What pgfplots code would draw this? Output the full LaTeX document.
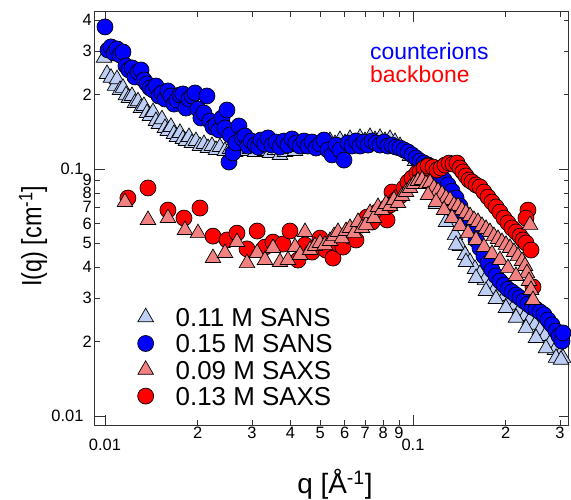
\documentclass[border=0pt]{standalone}
\usepackage{fontspec}
\setmainfont{Liberation Sans}
\usepackage{pgfplots}
\pgfplotsset{compat=1.18}
\definecolor{lblue}{RGB}{190,206,245}
\definecolor{salmon}{RGB}{242,130,130}
\definecolor{myblue}{RGB}{0,0,255}
\definecolor{myred}{RGB}{255,0,0}
\begin{document}
\begin{tikzpicture}
\useasboundingbox (0,0) rectangle (571bp,500bp);
\begin{axis}[
  at={(95bp,75bp)}, anchor=south west,
  scale only axis, width=474bp, height=413bp,
  xmode=log, ymode=log,
  xmin=0.00928, xmax=0.321, ymin=0.0092, ymax=0.432,
  clip=false,
  axis line style={black!80, line width=1bp},
  tick style={black!80, line width=0.8bp},
  major tick length=10bp, minor tick length=5bp,
  tick align=inside,
  xtick pos=both, ytick pos=both,
  xticklabel pos=lower, yticklabel pos=left,
  xtick={0.01,0.1}, xticklabels={0.01,0.1},
  ytick={0.01,0.1}, yticklabels={0.01,0.1},
  minor xtick={}, minor ytick={},
  xticklabel style={font=\fontsize{16.5}{16.5}\selectfont},
  yticklabel style={font=\fontsize{16.5}{16.5}\selectfont},
  xticklabel shift=10bp, yticklabel shift=8bp,
  extra x ticks={0.02,0.03,0.04,0.05,0.06,0.07,0.08,0.09,0.2,0.3},
  extra x tick labels={2,3,4,5,6,7,8,9,2,3},
  extra x tick style={major tick length=5bp, xticklabel shift=0bp, tick label style={font=\fontsize{12}{12}\selectfont, inner sep=1.5bp}},
  extra y ticks={0.02,0.03,0.04,0.05,0.06,0.07,0.08,0.09,0.2,0.3,0.4},
  extra y tick labels={2,3,4,5,6,7,8,9,2,3,4},
  extra y tick style={major tick length=5bp, yticklabel shift=2.5bp, tick label style={font=\fontsize{11.5}{11.5}\selectfont, inner sep=0.5bp}},
  xlabel={q [Å\textsuperscript{-1}]},
  ylabel={I(q) [cm\textsuperscript{-1}]},
  xlabel style={at={(axis description cs:0.5063,-0.167)}, anchor=base, font=\fontsize{28}{28}\selectfont},
  ylabel style={at={(axis description cs:-0.1308,0.457)}, anchor=center, font=\fontsize{28}{28}\selectfont, xscale=0.84},
  legend image code/.code={\path[draw=none] (0bp,0bp) -- (48bp,0bp); \draw[#1] plot[only marks] coordinates {(20bp,0bp)};},
  legend style={at={(0.0643,0.2889)}, anchor=north west, draw=none, fill=none, inner sep=0pt, row sep=3.7bp, font=\fontsize{26}{26}\selectfont, nodes={inner sep=2bp, text height=18.6bp, text depth=0bp}},
  legend cell align=left,
]
% 0.11 M SANS
\addplot[only marks, mark=triangle*, mark size=9bp, mark options={fill=lblue, draw=black, line width=0.7bp}, forget plot] coordinates {
(0.00993,0.282) (0.01015,0.2425) (0.01046,0.234) (0.01078,0.217) (0.01094,0.231) (0.01119,0.209) (0.01144,0.213) (0.0117,0.199) (0.01196,0.194) (0.01224,0.1975) (0.01251,0.185) (0.0128,0.188) (0.01309,0.1765) (0.01338,0.180) (0.01369,0.1685) (0.0140,0.164) (0.01432,0.170) (0.01464,0.1564) (0.01497,0.152) (0.01531,0.159) (0.01566,0.1466) (0.01601,0.1426) (0.01638,0.148) (0.01675,0.1386) (0.01713,0.1348) (0.01752,0.140) (0.01791,0.1323) (0.01832,0.1298) (0.01874,0.1348) (0.01916,0.1274) (0.01974,0.1298) (0.02034,0.1239) (0.02096,0.1262) (0.0216,0.1216) (0.02225,0.1239) (0.02293,0.1194) (0.02362,0.1227) (0.02452,0.1183) (0.02546,0.1205) (0.02643,0.1172) (0.02743,0.1216) (0.02848,0.1183) (0.0296,0.1205) (0.03073,0.1172) (0.03186,0.1216) (0.03307,0.1183) (0.03434,0.1161) (0.03565,0.1194) (0.0370,0.1140) (0.03841,0.1172) (0.03987,0.1205) (0.04139,0.1183) (0.04297,0.1227) (0.04461,0.1205) (0.04631,0.1262) (0.04807,0.1227) (0.0499,0.1274) (0.0518,0.1250) (0.05377,0.1298) (0.05582,0.1262) (0.05794,0.1310) (0.06015,0.1274) (0.06245,0.1323) (0.06483,0.1286) (0.06729,0.1336) (0.06985,0.1298) (0.07252,0.1348) (0.07528,0.1310) (0.07815,0.1336) (0.08113,0.1298) (0.0842,0.1323) (0.08741,0.1286) (0.09075,0.1239) (0.09421,0.1183) (0.09779,0.1129) (0.1015,0.1077) (0.1054,0.1028) (0.1094,0.0973) (0.1136,0.0903) (0.1179,0.0838) (0.1224,0.0763) (0.1271,0.0682) (0.1319,0.0610) (0.1369,0.0540) (0.1421,0.0488) (0.1475,0.0449) (0.1532,0.0420) (0.1590,0.0394) (0.1650,0.0376) (0.1713,0.0355) (0.1778,0.0339) (0.1846,0.0326) (0.1916,0.0318) (0.1989,0.0306) (0.2065,0.0295) (0.2144,0.0282) (0.2225,0.0269) (0.2310,0.0254) (0.2398,0.0245) (0.2489,0.0234) (0.2584,0.0223) (0.2683,0.0211) (0.2785,0.0197) (0.2891,0.0185) (0.3001,0.0177) (0.3069,0.0172)
(0.1188,0.0722) (0.1280,0.0610) (0.1380,0.0493) (0.1486,0.0420) (0.1602,0.0362) (0.1726,0.0321) (0.1860,0.0298) (0.2004,0.0274) (0.2160,0.0250) (0.2327,0.0227) (0.2508,0.0207) (0.2703,0.0188) (0.2913,0.0172) (0.3024,0.0169)
};
% 0.15 M SANS
\addplot[only marks, mark=*, mark size=8bp, mark options={fill=myblue, draw=black, line width=0.7bp}, forget plot] coordinates {
(0.0100,0.376) (0.01023,0.3033) (0.01046,0.3120) (0.0107,0.2949) (0.01094,0.3062) (0.01119,0.2895) (0.01144,0.2977) (0.0117,0.2613) (0.01196,0.2517) (0.01224,0.2565) (0.01251,0.2358) (0.0128,0.2470) (0.01309,0.2517) (0.01338,0.2293) (0.01369,0.2209) (0.0140,0.2128) (0.01432,0.2089) (0.01464,0.2168) (0.01497,0.1975) (0.01531,0.2031) (0.01566,0.1921) (0.01601,0.2070) (0.01638,0.1975) (0.01675,0.1832) (0.01713,0.1902) (0.01752,0.1994) (0.01791,0.2013) (0.01832,0.1765) (0.01874,0.1921) (0.01916,0.1975) (0.0196,0.2031) (0.02004,0.1749) (0.02049,0.1609) (0.02096,0.1685) (0.02143,0.1975) (0.02192,0.1564) (0.02242,0.1479) (0.02293,0.1507) (0.02345,0.1439) (0.02398,0.1609) (0.02452,0.1466) (0.02489,0.1733) (0.02527,0.1067) (0.02546,0.1374) (0.02603,0.1161) (0.02662,0.1274) (0.02723,0.1493) (0.02785,0.1336) (0.02848,0.1361) (0.02912,0.1239) (0.02982,0.1298) (0.03073,0.1250) (0.03142,0.1227) (0.0321,0.1310) (0.03307,0.1262) (0.03382,0.1336) (0.03486,0.1250) (0.03592,0.1286) (0.0370,0.1227) (0.03812,0.1298) (0.03928,0.1250) (0.04047,0.1323) (0.0417,0.1274) (0.04297,0.1239) (0.04427,0.1298) (0.04562,0.1239) (0.04701,0.1286) (0.04844,0.1216) (0.0499,0.1262) (0.05141,0.1310) (0.05297,0.1194) (0.05458,0.1140) (0.05624,0.1250) (0.05794,0.1194) (0.0597,0.1087) (0.06151,0.1274) (0.06339,0.1239) (0.06532,0.1298) (0.06729,0.1239) (0.06933,0.1286) (0.07144,0.1250) (0.07362,0.1298) (0.07585,0.1274) (0.07815,0.1250) (0.08052,0.1286) (0.08296,0.1239) (0.08547,0.1250) (0.08806,0.1227) (0.09075,0.1216) (0.0935,0.1194) (0.09634,0.1172) (0.09927,0.1140) (0.1023,0.1108) (0.1054,0.1077) (0.1086,0.1057) (0.1119,0.1038) (0.1153,0.1009) (0.1188,0.0973) (0.1224,0.0937) (0.1261,0.0903) (0.1299,0.0862) (0.1339,0.0814) (0.1380,0.0763) (0.1421,0.0708) (0.1464,0.0657) (0.1509,0.0610) (0.1555,0.0561) (0.1602,0.0516) (0.1650,0.0479) (0.1700,0.0444) (0.1752,0.0416) (0.1805,0.0390) (0.1860,0.0369) (0.1916,0.0352) (0.1974,0.0339) (0.2034,0.0326) (0.2096,0.0318) (0.2160,0.0309) (0.2225,0.0301) (0.2292,0.0292) (0.2362,0.0284) (0.2434,0.0276) (0.2508,0.0271) (0.2584,0.0264) (0.2662,0.0257) (0.2743,0.0245) (0.2827,0.0234) (0.2913,0.0221) (0.2979,0.0211) (0.3046,0.0201) (0.3069,0.0217)
};
% 0.13 M SAXS
\addplot[only marks, mark=*, mark size=8bp, mark options={fill=myred, draw=black, line width=0.7bp}, forget plot] coordinates {
(0.01187,0.0763) (0.01379,0.0838) (0.01601,0.0682) (0.01805,0.0633) (0.02034,0.0695) (0.02242,0.0535) (0.02489,0.0516) (0.02682,0.0550) (0.02891,0.0475) (0.03119,0.0561) (0.03307,0.0483) (0.03512,0.0506) (0.03784,0.0497) (0.03987,0.0561) (0.04233,0.0428) (0.04461,0.0493) (0.04701,0.0461) (0.0499,0.0525) (0.05219,0.0470) (0.05499,0.0436) (0.05708,0.0497) (0.05926,0.0483) (0.06245,0.0535) (0.06532,0.0516) (0.06831,0.0594) (0.0709,0.0639) (0.07362,0.0610) (0.07641,0.0669) (0.07933,0.0651) (0.08235,0.0622) (0.0842,0.0715) (0.08547,0.0807) (0.08806,0.0749) (0.09075,0.0777) (0.0935,0.0838) (0.09634,0.0886) (0.09927,0.0920) (0.1030,0.0964) (0.1054,0.0973) (0.1078,0.0920) (0.1086,0.1009) (0.1119,0.1028) (0.1162,0.1018) (0.1197,0.0991) (0.1233,0.1009) (0.1271,0.1038) (0.1309,0.1057) (0.1349,0.1047) (0.1390,0.1057) (0.1421,0.1009) (0.1453,0.0973) (0.1486,0.0937) (0.1520,0.0903) (0.1555,0.0886) (0.1602,0.0862) (0.1650,0.0846) (0.1700,0.0807) (0.1752,0.0770) (0.1805,0.0735) (0.1860,0.0702) (0.1916,0.0669) (0.1974,0.0633) (0.2034,0.0605) (0.2096,0.0577) (0.2160,0.0556) (0.2225,0.0535) (0.2276,0.0516) (0.2327,0.0502) (0.2362,0.0682) (0.2327,0.0633) (0.2416,0.0470) (0.2452,0.0333)
};
% 0.09 M SAXS
\addplot[only marks, mark=triangle*, mark size=9bp, mark options={fill=salmon, draw=black, line width=0.7bp}, forget plot] coordinates {
(0.01161,0.0735) (0.01379,0.0622) (0.01601,0.0633) (0.01818,0.0566) (0.02004,0.0550) (0.02242,0.0436) (0.02452,0.0457) (0.02682,0.0506) (0.02891,0.0416) (0.03119,0.0457) (0.03307,0.0428) (0.03512,0.0479) (0.0370,0.0420) (0.03928,0.0428) (0.04139,0.0483) (0.04297,0.0449) (0.04461,0.0556) (0.04631,0.0470) (0.04807,0.0488) (0.0499,0.0502) (0.0518,0.0493) (0.05377,0.0511) (0.0554,0.0535) (0.05708,0.0556) (0.05882,0.0525) (0.0606,0.0561) (0.06245,0.0577) (0.06434,0.0550) (0.0663,0.0610) (0.06831,0.0577) (0.07038,0.0594) (0.07252,0.0663) (0.07472,0.0633) (0.07699,0.0702) (0.07933,0.0682) (0.08174,0.0722) (0.0842,0.0708) (0.08675,0.0749) (0.08939,0.0728) (0.09212,0.0777) (0.09492,0.0807) (0.09779,0.0838) (0.1008,0.0870) (0.1038,0.0895) (0.1070,0.0903) (0.1102,0.0870) (0.1136,0.0878) (0.1170,0.0838) (0.1206,0.0814) (0.1242,0.0792) (0.1280,0.0763) (0.1319,0.0749) (0.1359,0.0715) (0.1400,0.0708) (0.1442,0.0682) (0.1486,0.0663) (0.1532,0.0645) (0.1578,0.0622) (0.1626,0.0610) (0.1675,0.0588) (0.1726,0.0572) (0.1778,0.0556) (0.1832,0.0535) (0.1888,0.0521) (0.1945,0.0506) (0.2004,0.0493) (0.2065,0.0479) (0.2128,0.0461) (0.2192,0.0444) (0.2259,0.0424) (0.2310,0.0405) (0.2344,0.0379) (0.2380,0.0352) (0.2416,0.0324) (0.2452,0.0295) (0.2398,0.0594)
(0.1119,0.0785) (0.1188,0.0735) (0.1261,0.0682) (0.1339,0.0633) (0.1421,0.0588) (0.1509,0.0550) (0.1602,0.0516) (0.1700,0.0483) (0.1805,0.0453) (0.1916,0.0428) (0.2034,0.0397) (0.2160,0.0369)
};
\addlegendimage{only marks, mark=triangle*, mark size=9bp, mark options={fill=lblue, draw=black, line width=0.7bp}}
\addlegendentry{0.11 M SANS}
\addlegendimage{only marks, mark=*, mark size=8bp, mark options={fill=myblue, draw=black, line width=0.7bp}}
\addlegendentry{0.15 M SANS}
\addlegendimage{only marks, mark=triangle*, mark size=9bp, mark options={fill=salmon, draw=black, line width=0.7bp}}
\addlegendentry{0.09 M SAXS}
\addlegendimage{only marks, mark=*, mark size=8bp, mark options={fill=myred, draw=black, line width=0.7bp}}
\addlegendentry{0.13 M SAXS}
\node[anchor=base west, text=myblue, font=\fontsize{23}{23}\selectfont, inner sep=0pt] at (rel axis cs:0.5802,0.8838) {counterions};
\node[anchor=base west, text=myred, font=\fontsize{23}{23}\selectfont, inner sep=0pt] at (rel axis cs:0.5802,0.8305) {backbone};
\end{axis}
\end{tikzpicture}
\end{document}
